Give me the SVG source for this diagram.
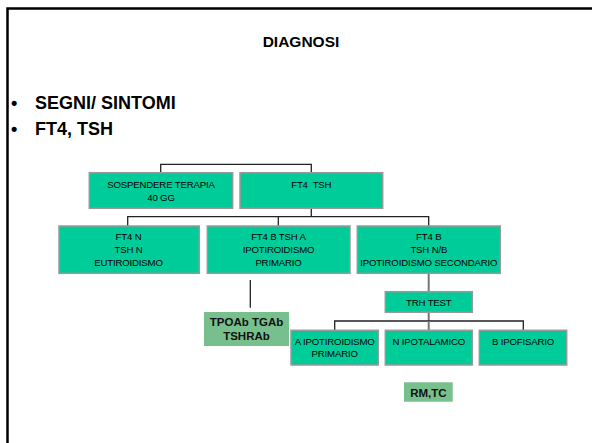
<svg xmlns="http://www.w3.org/2000/svg" width="592" height="443" viewBox="0 0 592 443">
  <style>
    .frame { fill: none; stroke: #000; stroke-width: 2.5; }
    .box { fill: #00CC99; stroke: #999; stroke-width: 1.5; }
    .note { fill: #77C08E; stroke: none; }
    .lbl { font-family: "Liberation Sans", Arial, sans-serif; font-size: 9.6px; fill: #000; text-anchor: middle; letter-spacing: -0.15px; }
    .nlbl { font-family: "Liberation Sans", Arial, sans-serif; font-size: 11.5px; font-weight: bold; fill: #111; text-anchor: middle; }
    .title { font-family: "Liberation Sans", Arial, sans-serif; font-size: 15.5px; font-weight: bold; fill: #000; text-anchor: middle; }
    .bullet { font-family: "Liberation Sans", Arial, sans-serif; font-size: 18px; font-weight: bold; fill: #000; }
    .conn { fill: none; stroke: #222; stroke-width: 1.3; }
    .conn2 { fill: none; stroke: #777; stroke-width: 2; }
  </style>

  <rect width="592" height="443" fill="#fff"/>
  <!-- slide frame -->
  <path class="frame" d="M7.5,443 V8.5 H592"/>

  <text class="title" x="301" y="47.3">DIAGNOSI</text>
  <text class="bullet" x="11" y="109">•</text>
  <text class="bullet" x="35" y="109">SEGNI/ SINTOMI</text>
  <text class="bullet" x="11" y="135">•</text>
  <text class="bullet" x="35" y="135">FT4, TSH</text>

  <g id="connectors">
    <path class="conn" d="M160.7,172.7 V164.3 H311.3 V172.7"/>
    <path class="conn" d="M311.3,208.3 V216.7"/>
    <path class="conn" d="M127.7,226 V216.7 H428.7 V226"/>
    <path class="conn" d="M278.3,216.7 V226"/>
    <path class="conn2" d="M428.7,273.3 V291.7"/>
    <path class="conn" d="M250.3,280 V307.7"/>
    <path class="conn2" d="M428.7,312.3 V321"/>
    <path class="conn" d="M334.7,330.3 V321 H523.3 V330.3"/>
    <path class="conn2" d="M428.7,321 V330.3"/>
  </g>

  <g id="sospendere">
    <rect class="box" x="89.3" y="172.7" width="143.4" height="35.6"/>
    <text class="lbl" x="161" y="187.8">SOSPENDERE TERAPIA</text>
    <text class="lbl" x="161" y="200.8">40 GG</text>
  </g>
  <g id="ft4tsh">
    <rect class="box" x="240" y="172.7" width="142.7" height="35.6"/>
    <text class="lbl" x="311.3" y="187.8" xml:space="preserve">FT4  TSH</text>
  </g>

  <g id="eutiroidismo">
    <rect class="box" x="59" y="226" width="140.3" height="47.3"/>
    <text class="lbl" x="128.5" y="239.5">FT4 N</text>
    <text class="lbl" x="128.5" y="252.8">TSH N</text>
    <text class="lbl" x="128.5" y="266.1">EUTIROIDISMO</text>
  </g>
  <g id="primario">
    <rect class="box" x="207.3" y="226" width="142.7" height="47.3"/>
    <text class="lbl" x="278.5" y="239.5">FT4 B TSH A</text>
    <text class="lbl" x="278.5" y="252.8">IPOTIROIDISMO</text>
    <text class="lbl" x="278.5" y="266.1">PRIMARIO</text>
  </g>
  <g id="secondario">
    <rect class="box" x="357.3" y="226" width="143" height="47.3"/>
    <text class="lbl" x="428.8" y="239.5">FT4 B</text>
    <text class="lbl" x="428.8" y="252.8">TSH N/B</text>
    <text class="lbl" x="428.8" y="266.1">IPOTIROIDISMO SECONDARIO</text>
  </g>

  <g id="anticorpi">
    <rect class="note" x="204" y="312" width="85" height="34"/>
    <text class="nlbl" x="246.5" y="326.4">TPOAb TGAb</text>
    <text class="nlbl" x="246.5" y="340.1">TSHRAb</text>
  </g>

  <g id="trh">
    <rect class="box" x="385.3" y="291.7" width="87" height="20.6"/>
    <text class="lbl" x="428.8" y="305.8">TRH TEST</text>
  </g>

  <g id="a-primario">
    <rect class="box" x="291" y="330.3" width="87.3" height="34.7"/>
    <text class="lbl" x="334.7" y="344.6">A IPOTIROIDISMO</text>
    <text class="lbl" x="334.7" y="357.2">PRIMARIO</text>
  </g>
  <g id="n-ipotalamico">
    <rect class="box" x="385.3" y="330.3" width="87" height="34.7"/>
    <text class="lbl" x="428.8" y="344.6">N IPOTALAMICO</text>
  </g>
  <g id="b-ipofisario">
    <rect class="box" x="479.3" y="330.3" width="87.4" height="34.7"/>
    <text class="lbl" x="523" y="344.6">B IPOFISARIO</text>
  </g>

  <g id="imaging">
    <rect class="note" x="404" y="382.3" width="48.7" height="19.4"/>
    <text class="nlbl" x="428.4" y="397">RM,TC</text>
  </g>
</svg>
